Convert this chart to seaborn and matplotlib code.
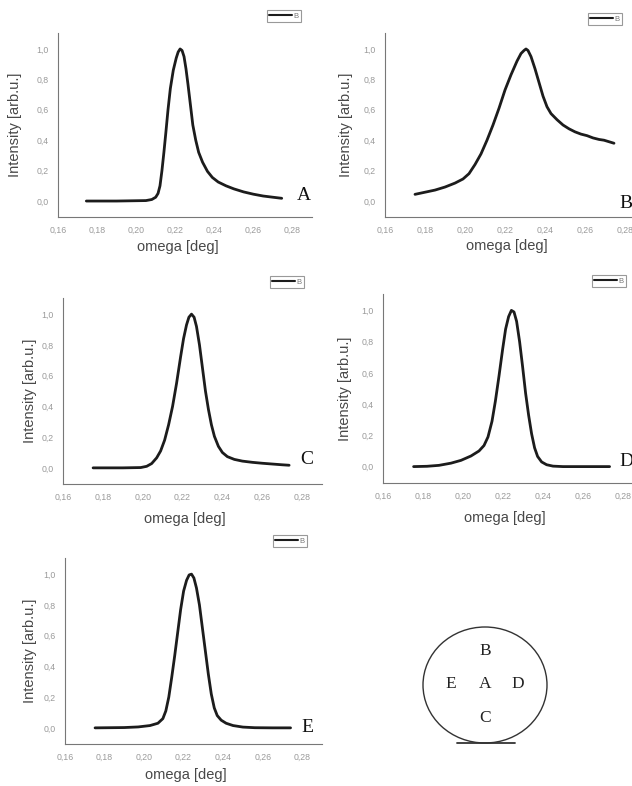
import numpy as np
import pandas as pd
import matplotlib
matplotlib.use("Agg")
import matplotlib.pyplot as plt
from matplotlib.ticker import FuncFormatter, MultipleLocator
from matplotlib.patches import Ellipse
import seaborn as sns

# ============================================================================
# DATA (digitised rocking curves, omega [deg] vs normalised intensity)
# ============================================================================
omega_A = [0.1745, 0.19, 0.205, 0.208, 0.210, 0.2112, 0.2122, 0.2132, 0.2142, 0.2152,
           0.2163, 0.2175, 0.219, 0.2205, 0.2215, 0.2225, 0.2235, 0.2245, 0.2255, 0.2265,
           0.2278, 0.229, 0.2305, 0.232, 0.234, 0.2365, 0.239, 0.242, 0.246, 0.25,
           0.255, 0.26, 0.265, 0.27, 0.2745]
intensity_A = [0.0, 0.0, 0.003, 0.01, 0.025, 0.05, 0.10, 0.20, 0.32, 0.45,
               0.60, 0.74, 0.86, 0.94, 0.98, 1.0, 0.99, 0.95, 0.87, 0.77,
               0.63, 0.50, 0.40, 0.32, 0.255, 0.195, 0.155, 0.125, 0.10, 0.08,
               0.06, 0.045, 0.033, 0.025, 0.018]

omega_B = [0.175, 0.18, 0.185, 0.19, 0.195, 0.199, 0.202, 0.205, 0.208, 0.211,
           0.214, 0.217, 0.22, 0.223, 0.226, 0.228, 0.2295, 0.2305, 0.2315, 0.233,
           0.235, 0.237, 0.239, 0.241, 0.243, 0.246, 0.249, 0.252, 0.255, 0.258,
           0.261, 0.264, 0.267, 0.2695, 0.272, 0.2745]
intensity_B = [0.044, 0.058, 0.072, 0.092, 0.118, 0.145, 0.18, 0.24, 0.31, 0.40,
               0.50, 0.61, 0.73, 0.83, 0.92, 0.97, 0.99, 1.0, 0.99, 0.95,
               0.87, 0.78, 0.69, 0.62, 0.575, 0.535, 0.50, 0.475, 0.455, 0.44,
               0.43, 0.415, 0.405, 0.40, 0.39, 0.38]

omega_C = [0.1751, 0.19, 0.199, 0.202, 0.2045, 0.207, 0.209, 0.211, 0.213, 0.215,
           0.217, 0.219, 0.2205, 0.222, 0.2232, 0.2245, 0.2258, 0.227, 0.2285, 0.23,
           0.2315, 0.233, 0.2345, 0.236, 0.238, 0.240, 0.2425, 0.246, 0.25, 0.255,
           0.26, 0.265, 0.27, 0.2735]
intensity_C = [0.0, 0.0, 0.002, 0.01, 0.028, 0.065, 0.11, 0.18, 0.28, 0.40,
               0.55, 0.72, 0.84, 0.93, 0.98, 1.0, 0.98, 0.92, 0.80, 0.65,
               0.50, 0.38, 0.28, 0.205, 0.14, 0.10, 0.073, 0.055, 0.044, 0.036,
               0.03, 0.025, 0.02, 0.017]

omega_D = [0.1753, 0.182, 0.188, 0.194, 0.199, 0.204, 0.208, 0.2105, 0.2125, 0.2145,
           0.2162, 0.218, 0.2198, 0.2213, 0.2228, 0.2242, 0.2255, 0.2268, 0.2283, 0.2298,
           0.2313, 0.2328, 0.2343, 0.2358, 0.2373, 0.2393, 0.2418, 0.245, 0.25, 0.26, 0.2733]
intensity_D = [0.0, 0.002, 0.008, 0.022, 0.04, 0.068, 0.10, 0.135, 0.19, 0.29,
               0.42, 0.58, 0.75, 0.88, 0.96, 1.0, 0.99, 0.93, 0.80, 0.64,
               0.47, 0.33, 0.21, 0.12, 0.065, 0.03, 0.012, 0.003, 0.0, 0.0, 0.0]

omega_E = [0.1752, 0.19, 0.197, 0.203, 0.207, 0.2095, 0.211, 0.2125, 0.214, 0.2155,
           0.217, 0.2185, 0.22, 0.2215, 0.2228, 0.224, 0.2252, 0.2265, 0.228, 0.2295,
           0.231, 0.2325, 0.234, 0.2355, 0.237, 0.239, 0.2415, 0.245, 0.25, 0.256,
           0.265, 0.2741]
intensity_E = [0.0, 0.002, 0.006, 0.015, 0.03, 0.06, 0.11, 0.20, 0.33, 0.47,
               0.62, 0.77, 0.89, 0.96, 0.995, 1.0, 0.975, 0.91, 0.80, 0.65,
               0.50, 0.35, 0.22, 0.13, 0.08, 0.05, 0.03, 0.015, 0.005, 0.001,
               0.0, 0.0]

panel_names = ['A', 'B', 'C', 'D', 'E']
x_ticks = [0.16, 0.18, 0.20, 0.22, 0.24, 0.26, 0.28]
y_ticks = [0.0, 0.2, 0.4, 0.6, 0.8, 1.0]
wafer_letters = ['B', 'E', 'A', 'D', 'C']

# ============================================================================
# LAYOUT (pixel geometry of the 632x786 page)
# ============================================================================
W, H = 632, 786
# left, top, right, bottom of each axes box
boxes = {'A': (58, 33, 312, 217), 'B': (385, 33, 645, 217),
         'C': (63, 298, 322, 484), 'D': (383, 294, 643, 483),
         'E': (65, 558, 322, 744)}
legend_anchor = {'A': (301, 10), 'B': (622, 13), 'C': (304, 276),
                 'D': (626, 275), 'E': (307, 535)}
letter_pos = {'A': (297, 195), 'B': (619, 203), 'C': (300, 460),
              'D': (619, 462), 'E': (301, 727)}
ylabel_dx = {'A': 36, 'B': 32, 'C': 26, 'D': 31, 'E': 28}
xlabel_dy = {'A': 23, 'B': 22, 'C': 28, 'D': 28, 'E': 24}
wafer_xy = [(485, 651), (451, 684), (485, 684), (518, 684), (485, 718)]

sns.set_style("white")
plt.rcParams['font.family'] = ['Liberation Sans', 'DejaVu Sans']

data = {'A': (omega_A, intensity_A), 'B': (omega_B, intensity_B),
        'C': (omega_C, intensity_C), 'D': (omega_D, intensity_D),
        'E': (omega_E, intensity_E)}


def px_rect(left, top, right, bottom):
    return [left / W, 1 - bottom / H, (right - left) / W, (bottom - top) / H]


comma2 = FuncFormatter(lambda v, p: f"{v:.2f}".replace('.', ','))
comma1 = FuncFormatter(lambda v, p: f"{v:.1f}".replace('.', ','))

fig = plt.figure(figsize=(W / 100, H / 100), dpi=100)

for name in panel_names:
    left, top, right, bottom = boxes[name]
    ax = fig.add_axes(px_rect(left, top, right, bottom))
    df = pd.DataFrame({'omega': data[name][0], 'intensity': data[name][1]})
    sns.lineplot(data=df, x='omega', y='intensity', ax=ax, color='#1c1c1c',
                 linewidth=2.0, label='B')

    ax.set_xlim(0.16, 0.29)
    ax.set_ylim(-0.105, 1.105)
    ax.set_xticks(x_ticks)
    ax.set_yticks(y_ticks)
    ax.xaxis.set_minor_locator(MultipleLocator(0.01))
    ax.yaxis.set_minor_locator(MultipleLocator(0.1))
    ax.xaxis.set_major_formatter(comma2)
    ax.yaxis.set_major_formatter(comma1)
    ax.tick_params(which='major', length=2.5, width=0.6, color='#8a8a8a',
                   labelsize=6.3, labelcolor='#9a9a9a', pad=4, direction='out')
    ax.tick_params(which='minor', length=1.5, width=0.5, color='#a0a0a0', direction='out')
    for side in ['top', 'right']:
        ax.spines[side].set_visible(False)
    for side in ['left', 'bottom']:
        ax.spines[side].set_color('#777777')
        ax.spines[side].set_linewidth(0.8)

    ax.set_xlabel('omega [deg]', fontsize=10.5, color='#484848')
    ax.set_ylabel('Intensity [arb.u.]', fontsize=10.5, color='#484848')
    width = right - left
    height = bottom - top
    ax.xaxis.set_label_coords(0.47, -xlabel_dy[name] / height)
    ax.yaxis.set_label_coords(-ylabel_dx[name] / width, 0.5)

    lx, ly = legend_anchor[name]
    leg = ax.legend(loc='upper right', bbox_to_anchor=(lx / W, 1 - ly / H),
                    bbox_transform=fig.transFigure, fontsize=5.5, frameon=True,
                    fancybox=False, handlelength=3.0, handletextpad=0.2,
                    borderpad=0.3, borderaxespad=0)
    leg.get_frame().set_edgecolor('#808080')
    leg.get_frame().set_linewidth(0.8)
    for t in leg.get_texts():
        t.set_color('#777777')
    for lh in leg.get_lines():
        lh.set_linewidth(1.5)

    tx, ty = letter_pos[name]
    fig.text(tx / W, 1 - ty / H, name, fontsize=14, ha='left', va='center',
             family=['Liberation Serif', 'DejaVu Serif'], color='#111111')

# wafer map sketch
axw = fig.add_axes(px_rect(400, 600, 570, 770))
axw.set_xlim(400, 570)
axw.set_ylim(770, 600)
axw.axis('off')
axw.add_patch(Ellipse((485, 685), 124, 116, fill=False, edgecolor='#333333', linewidth=1.0))
axw.plot([457, 515], [743, 743], color='#333333', linewidth=1.3)
for letter, (wx, wy) in zip(wafer_letters, wafer_xy):
    axw.text(wx, wy, letter, fontsize=12.5, ha='center', va='center',
             family=['Liberation Serif', 'DejaVu Serif'], color='#222222')

fig.savefig('out.png', dpi=100, facecolor='white')
plt.close(fig)
